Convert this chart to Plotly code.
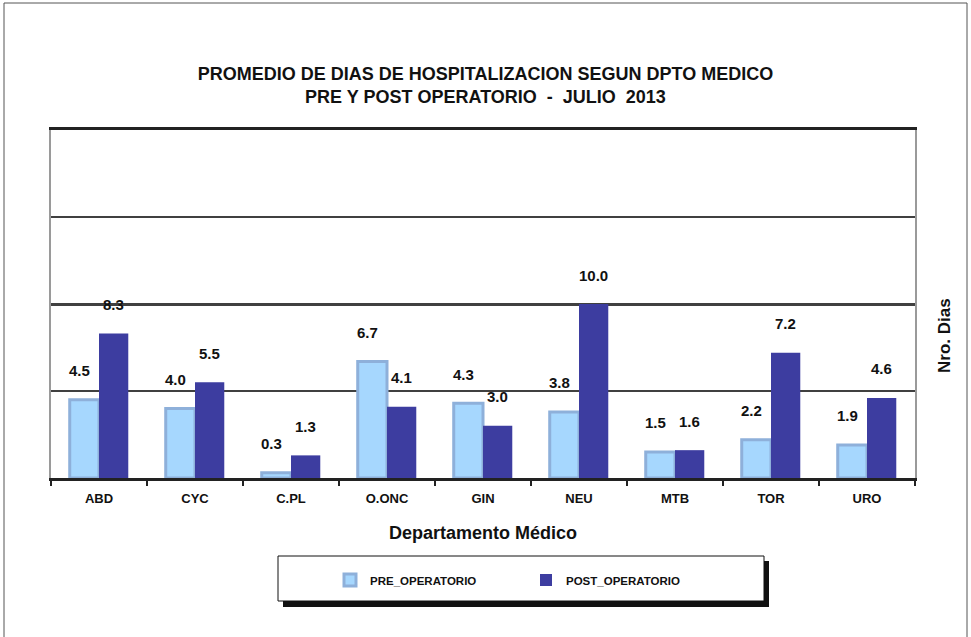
import plotly.graph_objects as go

# data
departamentos = ['ABD', 'CYC', 'C.PL', 'O.ONC', 'GIN', 'NEU', 'MTB', 'TOR', 'URO']
pre_operatorio = [4.5, 4.0, 0.3, 6.7, 4.3, 3.8, 1.5, 2.2, 1.9]
post_operatorio = [8.3, 5.5, 1.3, 4.1, 3.0, 10.0, 1.6, 7.2, 4.6]

W, H = 971, 637
L, R, T, B = 51, 915, 130, 478


def px(x):
    return (x - L) / (R - L)


def py(y):
    return (B - y) / (B - T)


bold = dict(family='Liberation Sans, Arial', color='#111', weight='bold')

fig = go.Figure()
fig.add_trace(go.Bar(x=departamentos, y=pre_operatorio, name='PRE_OPERATORIO',
                     marker=dict(color='#a6d7fe', line=dict(color='#8eb0da', width=3))))
fig.add_trace(go.Bar(x=departamentos, y=post_operatorio, name='POST_OPERATORIO',
                     marker=dict(color='#3d3da0', line=dict(width=0))))

# data labels, Excel style a bit above each bar
for d, v in zip(departamentos, pre_operatorio):
    fig.add_annotation(x=d, y=v, text=f'{v:.1f}', showarrow=False, xshift=-20, yshift=29,
                       font=dict(bold, size=15))
for d, v in zip(departamentos, post_operatorio):
    fig.add_annotation(x=d, y=v, text=f'{v:.1f}', showarrow=False, xshift=14, yshift=29,
                       font=dict(bold, size=15))

# right hand axis title
fig.add_annotation(xref='paper', yref='paper', x=px(944), y=py(336), text='Nro. Dias',
                   textangle=-90, showarrow=False, xanchor='center', yanchor='middle',
                   font=dict(bold, size=17))

shapes = [
    # outer frame
    dict(type='rect', xref='paper', yref='paper', x0=px(4), x1=px(967), y0=py(660), y1=py(3),
         line=dict(color='#555', width=1)),
    # legend box with shadow
    dict(type='rect', xref='paper', yref='paper', x0=px(283), x1=px(769), y0=py(607), y1=py(561),
         fillcolor='#111', line=dict(width=0)),
    dict(type='rect', xref='paper', yref='paper', x0=px(278), x1=px(764), y0=py(601), y1=py(556),
         fillcolor='white', line=dict(color='#111', width=1)),
]

fig.update_layout(
    width=W, height=H,
    margin=dict(l=L, r=W - R, t=T, b=H - B),
    paper_bgcolor='white',
    plot_bgcolor='white',
    barmode='group',
    bargap=0.39,
    bargroupgap=0,
    title=dict(
        text='PROMEDIO DE DIAS DE HOSPITALIZACION SEGUN DPTO MEDICO<br>PRE Y POST OPERATORIO  -  JULIO  2013',
        x=0.5, xanchor='center', y=1 - 80 / H, yanchor='middle',
        font=dict(bold, size=18),
    ),
    font=dict(family='Liberation Sans, Arial', color='#111'),
    showlegend=True,
    legend=dict(
        orientation='h', x=px(330), xanchor='left', y=py(580), yanchor='middle',
        bgcolor='rgba(0,0,0,0)', borderwidth=0,
        entrywidth=151, entrywidthmode='pixels',
        font=dict(bold, size=11.5),
    ),
    shapes=shapes,
)

fig.update_xaxes(
    title=dict(text='Departamento Médico', standoff=22, font=dict(bold, size=18)),
    tickfont=dict(bold, size=13),
    ticks='outside', tickson='boundaries', ticklen=5, tickcolor='#222', tickwidth=1.5,
    ticklabelstandoff=6,
    showline=True, linecolor='#222', linewidth=3, mirror=True,
    showgrid=False,
)

fig.update_yaxes(
    range=[0, 20], dtick=10,
    showticklabels=False, ticks='',
    showgrid=True, gridcolor='#404040', gridwidth=3,
    minor=dict(dtick=5, showgrid=True, gridcolor='#404040', gridwidth=1.5),
    zeroline=False,
    showline=True, linecolor='#9a9a9a', linewidth=2, mirror=True,
)

# the page has a default body margin, drop it so the figure sits at 0,0
fig.write_html('out.html', config={'displayModeBar': False},
               post_script="document.body.style.margin='0';")
